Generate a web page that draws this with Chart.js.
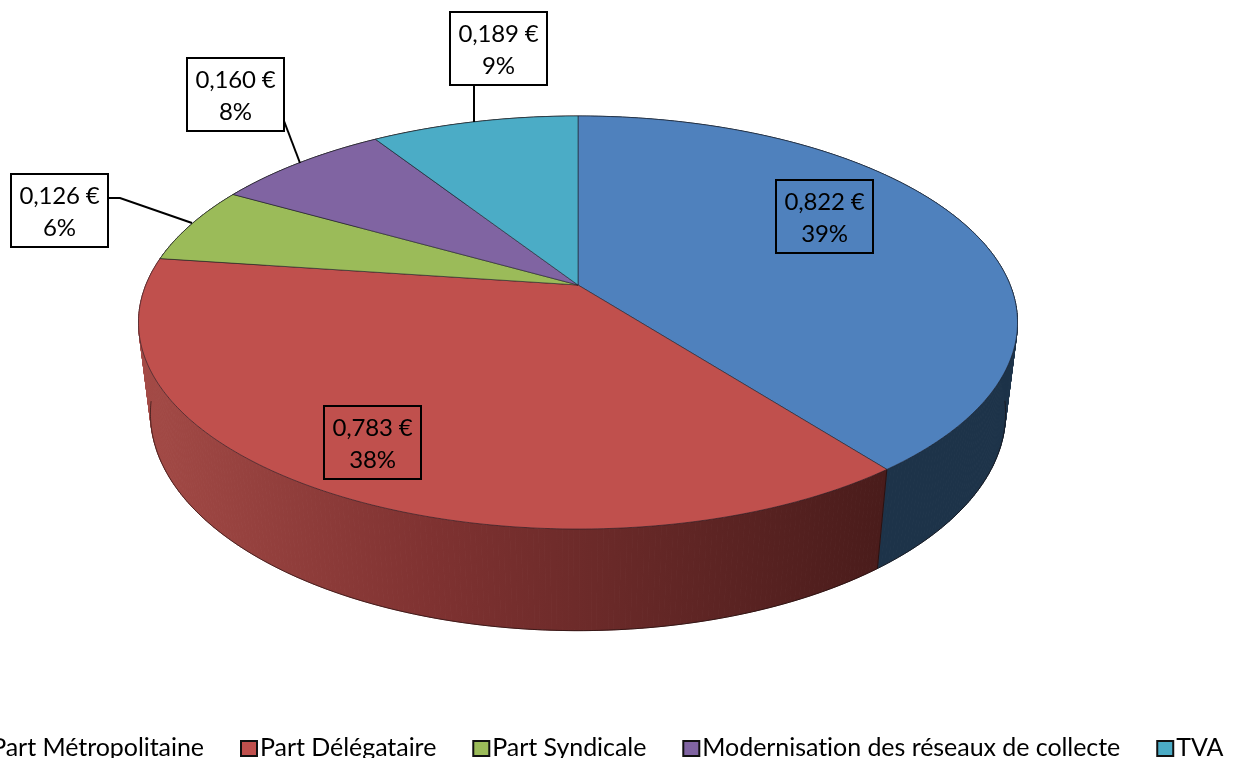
<!DOCTYPE html>
<html lang="fr">
<head>
<meta charset="utf-8">
<title>Répartition du prix</title>
<script src="https://cdn.jsdelivr.net/npm/chart.js@4"></script>
<style>
    html, body { margin: 0; padding: 0; background: #fff; overflow: hidden; }
    canvas { display: block; }
</style>
</head>
<body>
<canvas id="pieChart" width="1234" height="758"></canvas>
<script>
const categories = ['Part Métropolitaine', 'Part Délégataire', 'Part Syndicale', 'Modernisation des réseaux de collecte', 'TVA'];
const values = [0.822, 0.783, 0.126, 0.160, 0.189];
const percentLabels = ['39%', '38%', '6%', '8%', '9%'];
const sliceColors = ['#4F81BD', '#C0504D', '#9BBB59', '#8064A2', '#4BACC6'];

const LABEL_FONT = '24px Lato, Carlito, "Open Sans", sans-serif';
const LEGEND_FONT = '25px Lato, Carlito, "Open Sans", sans-serif';

// Perspective of the tilted disc: disc coordinates (u, v) to pixels
const view = { cx: 578, cy: 285, a: 432.2, b: 199.7, k: 0.1816, drop: 92.5, shrink: 0.027 };

function project(angle, radius, lower) {
    const u = Math.cos(angle) * radius;
    const v = Math.sin(angle) * radius;
    const w = 1 - view.k * v + (lower ? view.shrink : 0);
    return {
        x: view.cx + view.a * u / w,
        y: view.cy + (view.b * v + (lower ? view.drop : 0)) / w
    };
}

// Label boxes [left, top] and their leader lines, one per slice
const labelBoxes = [[776, 180], [324, 406], [11, 174], [187, 58], [450, 12]];
const leaders = [
    null,
    null,
    [[108, 198], [120, 198], [192, 223]],
    [[284, 121], [300, 163]],
    [[474, 85], [474, 122]]
];

function sideFill(ctx, index) {
    if (index === 1) {
        const grad = ctx.createLinearGradient(145, 0, 880, 0);
        grad.addColorStop(0, '#A34A46');
        grad.addColorStop(0.39, '#7F3231');
        grad.addColorStop(0.75, '#5F2524');
        grad.addColorStop(1, '#4A1C1B');
        return grad;
    }
    return index === 0 ? '#1D3349' : '#333333';
}

function drawSides(ctx, arcs) {
    arcs.forEach((arc, i) => {
        const fill = sideFill(ctx, i);
        const steps = Math.ceil((arc.endAngle - arc.startAngle) * 90);
        ctx.fillStyle = fill;
        ctx.strokeStyle = fill;
        ctx.lineWidth = 1;
        for (let s = 0; s < steps; s++) {
            const a0 = arc.startAngle + (arc.endAngle - arc.startAngle) * s / steps;
            const a1 = arc.startAngle + (arc.endAngle - arc.startAngle) * (s + 1) / steps;
            const p = [project(a0, 1), project(a1, 1), project(a1, 1, true), project(a0, 1, true)];
            ctx.beginPath();
            p.forEach((pt, n) => n ? ctx.lineTo(pt.x, pt.y) : ctx.moveTo(pt.x, pt.y));
            ctx.closePath();
            ctx.fill();
            ctx.stroke();
        }
    });
    // bottom rim and the visible slice boundary
    ctx.strokeStyle = 'rgba(20,10,10,0.75)';
    ctx.lineWidth = 0.8;
    ctx.beginPath();
    for (let a = 0.12; a <= Math.PI - 0.12; a += 0.01) {
        const pt = project(a, 1, true);
        a === 0.12 ? ctx.moveTo(pt.x, pt.y) : ctx.lineTo(pt.x, pt.y);
    }
    ctx.stroke();
    const edge = arcs[0].endAngle;
    const top = project(edge, 1);
    const low = project(edge, 1, true);
    ctx.beginPath();
    ctx.moveTo(top.x, top.y);
    ctx.lineTo(low.x, low.y);
    ctx.stroke();
}

function drawTop(ctx, arcs) {
    arcs.forEach(arc => {
        const steps = Math.ceil((arc.endAngle - arc.startAngle) * 90);
        ctx.beginPath();
        ctx.moveTo(view.cx, view.cy);
        for (let s = 0; s <= steps; s++) {
            const pt = project(arc.startAngle + (arc.endAngle - arc.startAngle) * s / steps, 1);
            ctx.lineTo(pt.x, pt.y);
        }
        ctx.closePath();
        ctx.fillStyle = arc.options.backgroundColor;
        ctx.fill();
        ctx.strokeStyle = 'rgba(25,25,35,0.7)';
        ctx.lineWidth = 0.8;
        ctx.stroke();
    });
}

function drawLabels(ctx) {
    ctx.font = LABEL_FONT;
    ctx.letterSpacing = '-0.2px';
    ctx.textAlign = 'center';
    ctx.textBaseline = 'alphabetic';
    values.forEach((val, i) => {
        const [x, y] = labelBoxes[i];
        ctx.strokeStyle = '#000';
        ctx.lineWidth = 2;
        if (leaders[i]) {
            ctx.beginPath();
            leaders[i].forEach((pt, n) => n ? ctx.lineTo(pt[0], pt[1]) : ctx.moveTo(pt[0], pt[1]));
            ctx.stroke();
            ctx.fillStyle = '#fff';
            ctx.fillRect(x, y, 97, 73);
        }
        ctx.strokeRect(x, y, 97, 73);
        ctx.fillStyle = '#000';
        ctx.fillText(val.toFixed(3).replace('.', ',') + ' €', x + 48.5, y + 30);
        ctx.fillText(percentLabels[i], x + 48.5, y + 62);
    });
}

function drawLegend(ctx) {
    ctx.font = LEGEND_FONT;
    ctx.letterSpacing = '-0.05px';
    ctx.textAlign = 'left';
    ctx.textBaseline = 'alphabetic';
    // first entry runs off the left edge, same as the source picture
    let x = 204 - ctx.measureText(categories[0]).width - 19;
    categories.forEach((name, i) => {
        ctx.fillStyle = sliceColors[i];
        ctx.fillRect(x, 741, 16, 15);
        ctx.strokeStyle = '#111';
        ctx.lineWidth = 2;
        ctx.strokeRect(x, 741, 16, 15);
        ctx.fillStyle = '#000';
        ctx.fillText(name, x + 19, 756);
        x += 19 + ctx.measureText(name).width + 37;
    });
}

const tiltedPie = {
    id: 'tiltedPie',
    beforeDatasetsDraw(chart) {
        const ctx = chart.ctx;
        const arcs = chart.getDatasetMeta(0).data;
        ctx.save();
        drawSides(ctx, arcs);
        drawTop(ctx, arcs);
        drawLabels(ctx);
        drawLegend(ctx);
        ctx.restore();
        return false;
    }
};

new Chart(document.getElementById('pieChart').getContext('2d'), {
    type: 'pie',
    data: {
        labels: categories,
        datasets: [{
            data: values,
            backgroundColor: sliceColors
        }]
    },
    options: {
        responsive: false,
        animation: false,
        plugins: {
            legend: { display: false },
            tooltip: { enabled: false }
        }
    },
    plugins: [tiltedPie]
});
</script>
</body>
</html>
